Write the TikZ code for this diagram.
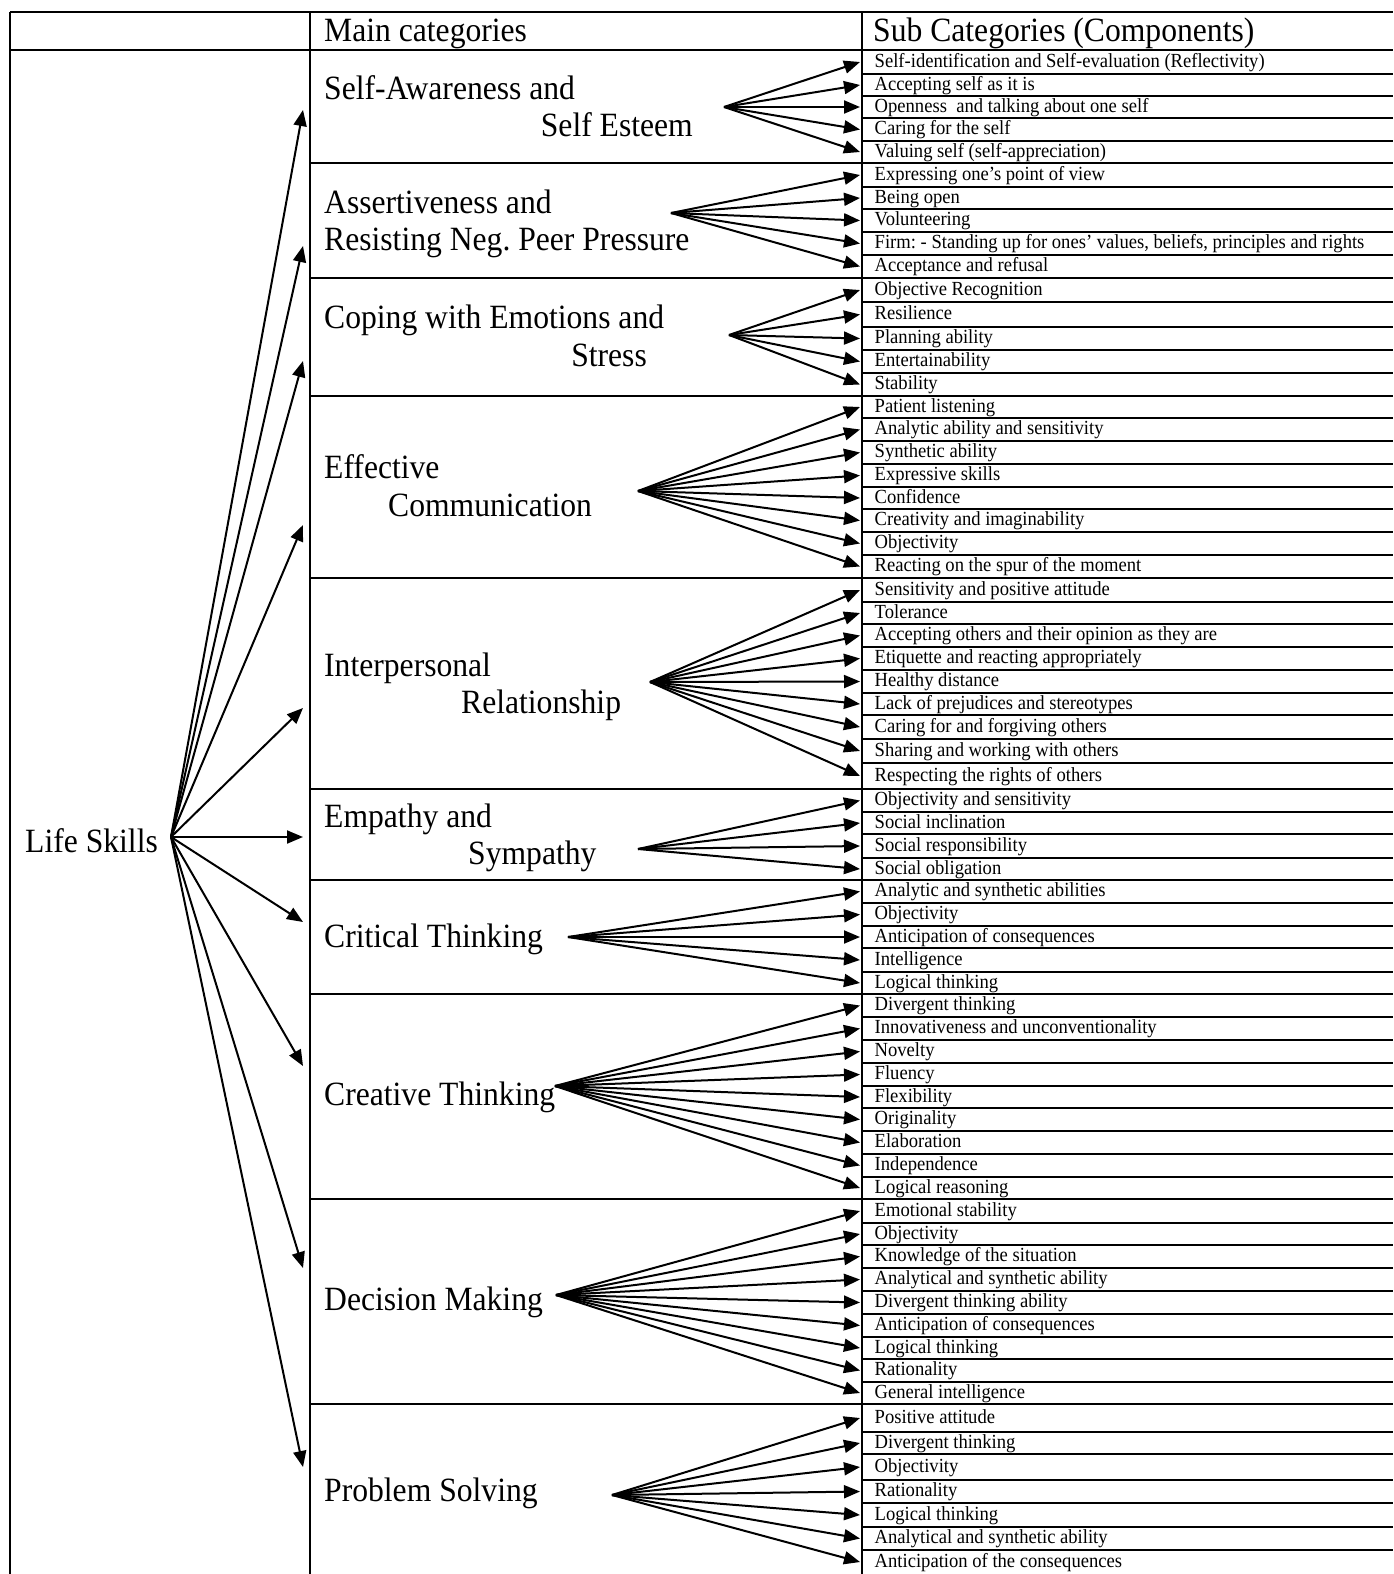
\documentclass[tikz,border=0pt]{standalone}
\usepackage{fontspec}
\setmainfont{Liberation Serif}[FakeStretch=0.93]
\usetikzlibrary{arrows.meta}
\frenchspacing

\tikzset{
	tline/.style={draw=black, line width=1.9pt},
	arr/.style={draw=black, line width=2pt, -{Triangle[length=16pt,width=13pt]}},
	catlabel/.style={anchor=base west, inner sep=0pt, font=\fontsize{34}{40}\selectfont},
	subitem/.style={anchor=west, inner xsep=14.5pt, inner ysep=0pt, text height=14pt, text depth=4pt, font=\fontsize{20}{24}\selectfont},
}

\begin{document}
\begin{tikzpicture}[x=1pt, y=-1pt]
	\useasboundingbox (0,0) rectangle (1393,1574);
	% table frame
	\draw[tline] (10,12) -- (1393,12);
	\draw[tline] (10,50) -- (1393,50);
	\draw[tline] (10,12) -- (10,1574);
	\draw[tline] (310,12) -- (310,1574);
	\draw[tline] (862,12) -- (862,1574);
	\draw[tline] (310,163) -- (1393,163);
	\draw[tline] (310,278) -- (1393,278);
	\draw[tline] (310,396) -- (1393,396);
	\draw[tline] (310,578) -- (1393,578);
	\draw[tline] (310,789) -- (1393,789);
	\draw[tline] (310,880) -- (1393,880);
	\draw[tline] (310,994) -- (1393,994);
	\draw[tline] (310,1199) -- (1393,1199);
	\draw[tline] (310,1404) -- (1393,1404);
	% rows of the right column
	\draw[tline] (862,74) -- (1393,74);
	\draw[tline] (862,96) -- (1393,96);
	\draw[tline] (862,118) -- (1393,118);
	\draw[tline] (862,141) -- (1393,141);
	\draw[tline] (862,187) -- (1393,187);
	\draw[tline] (862,209) -- (1393,209);
	\draw[tline] (862,232) -- (1393,232);
	\draw[tline] (862,255) -- (1393,255);
	\draw[tline] (862,302) -- (1393,302);
	\draw[tline] (862,327) -- (1393,327);
	\draw[tline] (862,350) -- (1393,350);
	\draw[tline] (862,373) -- (1393,373);
	\draw[tline] (862,418) -- (1393,418);
	\draw[tline] (862,441) -- (1393,441);
	\draw[tline] (862,464) -- (1393,464);
	\draw[tline] (862,487) -- (1393,487);
	\draw[tline] (862,509) -- (1393,509);
	\draw[tline] (862,532) -- (1393,532);
	\draw[tline] (862,555) -- (1393,555);
	\draw[tline] (862,602) -- (1393,602);
	\draw[tline] (862,624) -- (1393,624);
	\draw[tline] (862,647) -- (1393,647);
	\draw[tline] (862,670) -- (1393,670);
	\draw[tline] (862,693) -- (1393,693);
	\draw[tline] (862,715) -- (1393,715);
	\draw[tline] (862,739) -- (1393,739);
	\draw[tline] (862,763) -- (1393,763);
	\draw[tline] (862,812) -- (1393,812);
	\draw[tline] (862,834) -- (1393,834);
	\draw[tline] (862,858) -- (1393,858);
	\draw[tline] (862,903) -- (1393,903);
	\draw[tline] (862,926) -- (1393,926);
	\draw[tline] (862,948) -- (1393,948);
	\draw[tline] (862,972) -- (1393,972);
	\draw[tline] (862,1017) -- (1393,1017);
	\draw[tline] (862,1040) -- (1393,1040);
	\draw[tline] (862,1063) -- (1393,1063);
	\draw[tline] (862,1086) -- (1393,1086);
	\draw[tline] (862,1108) -- (1393,1108);
	\draw[tline] (862,1131) -- (1393,1131);
	\draw[tline] (862,1154) -- (1393,1154);
	\draw[tline] (862,1177) -- (1393,1177);
	\draw[tline] (862,1223) -- (1393,1223);
	\draw[tline] (862,1245) -- (1393,1245);
	\draw[tline] (862,1268) -- (1393,1268);
	\draw[tline] (862,1291) -- (1393,1291);
	\draw[tline] (862,1314) -- (1393,1314);
	\draw[tline] (862,1337) -- (1393,1337);
	\draw[tline] (862,1359) -- (1393,1359);
	\draw[tline] (862,1382) -- (1393,1382);
	\draw[tline] (862,1432) -- (1393,1432);
	\draw[tline] (862,1454) -- (1393,1454);
	\draw[tline] (862,1480) -- (1393,1480);
	\draw[tline] (862,1503) -- (1393,1503);
	\draw[tline] (862,1527) -- (1393,1527);
	\draw[tline] (862,1550) -- (1393,1550);
	% headers and left column
	\node[catlabel] (hmain) at (324,41) {Main categories};
	\node[catlabel] (hsub) at (873,41) {Sub Categories (Components)};
	\node[catlabel] (life) at (25,852) {Life Skills};
	% main categories
	\node[catlabel] (cat1a) at (324,99) {Self-Awareness and};
	\node[catlabel, anchor=base east] (cat1b) at (693,136) {Self Esteem};
	\node[catlabel] (cat2a) at (324,213) {Assertiveness and};
	\node[catlabel] (cat2b) at (324,250) {Resisting Neg. Peer Pressure};
	\node[catlabel] (cat3a) at (324,328) {Coping with Emotions and};
	\node[catlabel, anchor=base east] (cat3b) at (647,366) {Stress};
	\node[catlabel] (cat4a) at (324,478) {Effective};
	\node[catlabel] (cat4b) at (388,516) {Communication};
	\node[catlabel] (cat5a) at (324,676) {Interpersonal};
	\node[catlabel] (cat5b) at (461,713) {Relationship};
	\node[catlabel] (cat6a) at (324,827) {Empathy and};
	\node[catlabel] (cat6b) at (468,864) {Sympathy};
	\node[catlabel] (cat7) at (324,947) {Critical Thinking};
	\node[catlabel] (cat8) at (324,1105) {Creative Thinking};
	\node[catlabel] (cat9) at (324,1310) {Decision Making};
	\node[catlabel] (cat10) at (324,1501) {Problem Solving};
	% arrows from Life Skills
	\coordinate (hub) at (171,837);
	\coordinate (tip1) at (303,110);
	\coordinate (tip2) at (303,246);
	\coordinate (tip3) at (303,361);
	\coordinate (tip4) at (303,525);
	\coordinate (tip5) at (303,708);
	\coordinate (tip6) at (303,837);
	\coordinate (tip7) at (303,922);
	\coordinate (tip8) at (303,1066);
	\coordinate (tip9) at (303,1268);
	\coordinate (tip10) at (303,1467);
	\draw[arr] (hub) -- (tip1);
	\draw[arr] (hub) -- (tip2);
	\draw[arr] (hub) -- (tip3);
	\draw[arr] (hub) -- (tip4);
	\draw[arr] (hub) -- (tip5);
	\draw[arr] (hub) -- (tip6);
	\draw[arr] (hub) -- (tip7);
	\draw[arr] (hub) -- (tip8);
	\draw[arr] (hub) -- (tip9);
	\draw[arr] (hub) -- (tip10);
	% fan origins
	\coordinate (sa) at (724,107);
	\coordinate (as) at (671,213);
	\coordinate (co) at (729,335);
	\coordinate (ec) at (638,491);
	\coordinate (ip) at (650,682);
	\coordinate (em) at (638,849);
	\coordinate (ct) at (568,937);
	\coordinate (cr) at (555,1086);
	\coordinate (dm) at (556,1295);
	\coordinate (ps) at (612,1495);
	% self-awareness
	\node[subitem] (sa1) at (860,62) {Self-identification and Self-evaluation (Reflectivity)};
	\node[subitem] (sa2) at (860,85) {Accepting self as it is};
	\node[subitem] (sa3) at (860,107) {Openness~ and talking about one self};
	\node[subitem] (sa4) at (860,129.5) {Caring for the self};
	\node[subitem] (sa5) at (860,152) {Valuing self (self-appreciation)};
	\draw[arr] (sa) -- (sa1.west);
	\draw[arr] (sa) -- (sa2.west);
	\draw[arr] (sa) -- (sa3.west);
	\draw[arr] (sa) -- (sa4.west);
	\draw[arr] (sa) -- (sa5.west);
	% assertiveness
	\node[subitem] (as1) at (860,175) {Expressing one’s point of view};
	\node[subitem] (as2) at (860,198) {Being open};
	\node[subitem] (as3) at (860,220.5) {Volunteering};
	\node[subitem] (as4) at (860,243.5) {Firm: - Standing up for ones’ values, beliefs, principles and rights};
	\node[subitem] (as5) at (860,266.5) {Acceptance and refusal};
	\draw[arr] (as) -- (as1.west);
	\draw[arr] (as) -- (as2.west);
	\draw[arr] (as) -- (as3.west);
	\draw[arr] (as) -- (as4.west);
	\draw[arr] (as) -- (as5.west);
	% coping
	\node[subitem] (co1) at (860,290) {Objective Recognition};
	\node[subitem] (co2) at (860,314.5) {Resilience};
	\node[subitem] (co3) at (860,338.5) {Planning ability};
	\node[subitem] (co4) at (860,361.5) {Entertainability};
	\node[subitem] (co5) at (860,384.5) {Stability};
	\draw[arr] (co) -- (co1.west);
	\draw[arr] (co) -- (co2.west);
	\draw[arr] (co) -- (co3.west);
	\draw[arr] (co) -- (co4.west);
	\draw[arr] (co) -- (co5.west);
	% communication
	\node[subitem] (ec1) at (860,407) {Patient listening};
	\node[subitem] (ec2) at (860,429.5) {Analytic ability and sensitivity};
	\node[subitem] (ec3) at (860,452.5) {Synthetic ability};
	\node[subitem] (ec4) at (860,475.5) {Expressive skills};
	\node[subitem] (ec5) at (860,498) {Confidence};
	\node[subitem] (ec6) at (860,520.5) {Creativity and imaginability};
	\node[subitem] (ec7) at (860,543.5) {Objectivity};
	\node[subitem] (ec8) at (860,566.5) {Reacting on the spur of the moment};
	\draw[arr] (ec) -- (ec1.west);
	\draw[arr] (ec) -- (ec2.west);
	\draw[arr] (ec) -- (ec3.west);
	\draw[arr] (ec) -- (ec4.west);
	\draw[arr] (ec) -- (ec5.west);
	\draw[arr] (ec) -- (ec6.west);
	\draw[arr] (ec) -- (ec7.west);
	\draw[arr] (ec) -- (ec8.west);
	% interpersonal
	\node[subitem] (ip1) at (860,590) {Sensitivity and positive attitude};
	\node[subitem] (ip2) at (860,613) {Tolerance};
	\node[subitem] (ip3) at (860,635.5) {Accepting others and their opinion as they are};
	\node[subitem] (ip4) at (860,658.5) {Etiquette and reacting appropriately};
	\node[subitem] (ip5) at (860,681.5) {Healthy distance};
	\node[subitem] (ip6) at (860,704) {Lack of prejudices and stereotypes};
	\node[subitem] (ip7) at (860,727) {Caring for and forgiving others};
	\node[subitem] (ip8) at (860,751) {Sharing and working with others};
	\node[subitem] (ip9) at (860,776) {Respecting the rights of others};
	\draw[arr] (ip) -- (ip1.west);
	\draw[arr] (ip) -- (ip2.west);
	\draw[arr] (ip) -- (ip3.west);
	\draw[arr] (ip) -- (ip4.west);
	\draw[arr] (ip) -- (ip5.west);
	\draw[arr] (ip) -- (ip6.west);
	\draw[arr] (ip) -- (ip7.west);
	\draw[arr] (ip) -- (ip8.west);
	\draw[arr] (ip) -- (ip9.west);
	% empathy
	\node[subitem] (em1) at (860,800.5) {Objectivity and sensitivity};
	\node[subitem] (em2) at (860,823) {Social inclination};
	\node[subitem] (em3) at (860,846) {Social responsibility};
	\node[subitem] (em4) at (860,869) {Social obligation};
	\draw[arr] (em) -- (em1.west);
	\draw[arr] (em) -- (em2.west);
	\draw[arr] (em) -- (em3.west);
	\draw[arr] (em) -- (em4.west);
	% critical thinking
	\node[subitem] (ct1) at (860,891.5) {Analytic and synthetic abilities};
	\node[subitem] (ct2) at (860,914.5) {Objectivity};
	\node[subitem] (ct3) at (860,937) {Anticipation of consequences};
	\node[subitem] (ct4) at (860,960) {Intelligence};
	\node[subitem] (ct5) at (860,983) {Logical thinking};
	\draw[arr] (ct) -- (ct1.west);
	\draw[arr] (ct) -- (ct2.west);
	\draw[arr] (ct) -- (ct3.west);
	\draw[arr] (ct) -- (ct4.west);
	\draw[arr] (ct) -- (ct5.west);
	% creative thinking
	\node[subitem] (cr1) at (860,1005.5) {Divergent thinking};
	\node[subitem] (cr2) at (860,1028.5) {Innovativeness and unconventionality};
	\node[subitem] (cr3) at (860,1051.5) {Novelty};
	\node[subitem] (cr4) at (860,1074.5) {Fluency};
	\node[subitem] (cr5) at (860,1097) {Flexibility};
	\node[subitem] (cr6) at (860,1119.5) {Originality};
	\node[subitem] (cr7) at (860,1142.5) {Elaboration};
	\node[subitem] (cr8) at (860,1165.5) {Independence};
	\node[subitem] (cr9) at (860,1188) {Logical reasoning};
	\draw[arr] (cr) -- (cr1.west);
	\draw[arr] (cr) -- (cr2.west);
	\draw[arr] (cr) -- (cr3.west);
	\draw[arr] (cr) -- (cr4.west);
	\draw[arr] (cr) -- (cr5.west);
	\draw[arr] (cr) -- (cr6.west);
	\draw[arr] (cr) -- (cr7.west);
	\draw[arr] (cr) -- (cr8.west);
	\draw[arr] (cr) -- (cr9.west);
	% decision making
	\node[subitem] (dm1) at (860,1211) {Emotional stability};
	\node[subitem] (dm2) at (860,1234) {Objectivity};
	\node[subitem] (dm3) at (860,1256.5) {Knowledge of the situation};
	\node[subitem] (dm4) at (860,1279.5) {Analytical and synthetic ability};
	\node[subitem] (dm5) at (860,1302.5) {Divergent thinking ability};
	\node[subitem] (dm6) at (860,1325.5) {Anticipation of consequences};
	\node[subitem] (dm7) at (860,1348) {Logical thinking};
	\node[subitem] (dm8) at (860,1370.5) {Rationality};
	\node[subitem] (dm9) at (860,1393) {General intelligence};
	\draw[arr] (dm) -- (dm1.west);
	\draw[arr] (dm) -- (dm2.west);
	\draw[arr] (dm) -- (dm3.west);
	\draw[arr] (dm) -- (dm4.west);
	\draw[arr] (dm) -- (dm5.west);
	\draw[arr] (dm) -- (dm6.west);
	\draw[arr] (dm) -- (dm7.west);
	\draw[arr] (dm) -- (dm8.west);
	\draw[arr] (dm) -- (dm9.west);
	% problem solving
	\node[subitem] (ps1) at (860,1418) {Positive attitude};
	\node[subitem] (ps2) at (860,1443) {Divergent thinking};
	\node[subitem] (ps3) at (860,1467) {Objectivity};
	\node[subitem] (ps4) at (860,1491.5) {Rationality};
	\node[subitem] (ps5) at (860,1515) {Logical thinking};
	\node[subitem] (ps6) at (860,1538.5) {Analytical and synthetic ability};
	\node[subitem] (ps7) at (860,1562) {Anticipation of the consequences};
	\draw[arr] (ps) -- (ps1.west);
	\draw[arr] (ps) -- (ps2.west);
	\draw[arr] (ps) -- (ps3.west);
	\draw[arr] (ps) -- (ps4.west);
	\draw[arr] (ps) -- (ps5.west);
	\draw[arr] (ps) -- (ps6.west);
	\draw[arr] (ps) -- (ps7.west);
\end{tikzpicture}
\end{document}
